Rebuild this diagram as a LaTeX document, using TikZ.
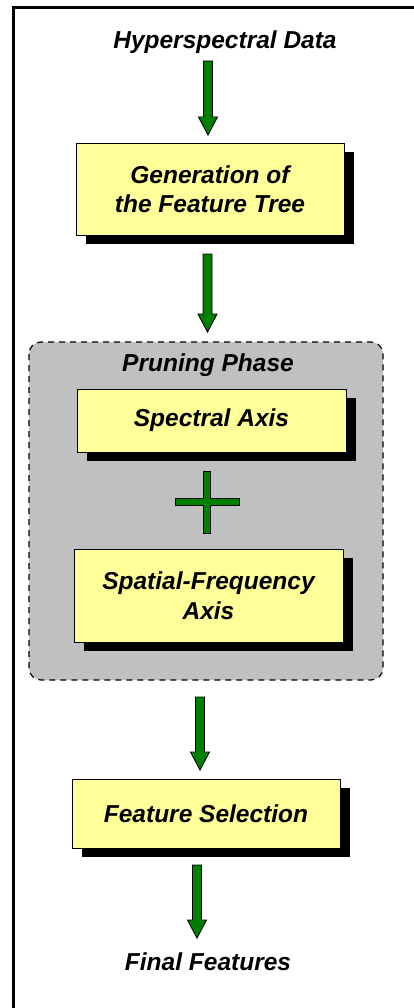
\documentclass[tikz,border=0pt]{standalone}
\usepackage{fontspec}
\setmainfont{Liberation Sans}
\usetikzlibrary{calc}
\definecolor{boxyellow}{RGB}{255,255,153}
\definecolor{arrowgreen}{RGB}{0,128,0}
\definecolor{phasegray}{RGB}{192,192,192}
\tikzset{
  label/.style={font=\fontsize{24.5}{29.5}\selectfont\bfseries\itshape, align=center, inner sep=0pt},
  stage/.style={draw=black, line width=0.9pt, fill=boxyellow, align=center,
    font=\fontsize{24.5}{29.5}\selectfont\bfseries\itshape, inner sep=0pt},
  fatarrow/.style={draw=black, line width=0.9pt, fill=arrowgreen, line join=miter},
}
% thick down arrow with black outline, from #1 to the tip #2
\newcommand\fatarrow[2]{%
  \draw[fatarrow] let \p1=(#1), \p2=(#2) in
    (\x1-4.5pt,\y1) -- (\x1-4.5pt,\y2+18pt) -- (\x1-9.5pt,\y2+18pt) -- (\x2,\y2)
    -- (\x1+9.5pt,\y2+18pt) -- (\x1+4.5pt,\y2+18pt) -- (\x1+4.5pt,\y1) -- cycle;}
% box with a solid black drop shadow
\newcommand\stagebox[5]{%
  \fill[black] ($(#2)+(-#3/2+10,-#4/2+9)$) rectangle ($(#2)+(#3/2+10,#4/2+9)$);
  \node[stage, minimum width=#3pt, minimum height=#4pt] (#1) at (#2) {#5};}
\begin{document}
\begin{tikzpicture}[x=1pt,y=-1pt]
\useasboundingbox (0,0) rectangle (414,1008);
\fill[white] (0,0) rectangle (414,1008);
% open frame: top and left edges
\draw[line width=3pt] (13.5,1008) -- (13.5,7.5) -- (414,7.5);

\node[label] (input) at (225,42) {Hyperspectral Data};

\stagebox{gen}{210,189}{268}{92}{Generation of\\the Feature Tree}

% pruning phase group
\draw[line width=1.2pt, fill=phasegray, rounded corners=12pt,
  dash pattern=on 6pt off 5pt] (29,342) rectangle (383,680);
\node[label] (phase) at (208,365) {Pruning Phase};
\stagebox{spec}{211.5,420.5}{269}{63}{Spectral Axis}
\stagebox{spat}{208.5,595.5}{269}{93}{Spatial-Frequency\\Axis}
\draw[fatarrow] (203.5,471) -- (210.5,471) -- (210.5,498.5) -- (239,498.5)
  -- (239,505.5) -- (210.5,505.5) -- (210.5,533) -- (203.5,533) -- (203.5,505.5)
  -- (175,505.5) -- (175,498.5) -- (203.5,498.5) -- cycle;

\stagebox{sel}{206,813.5}{268}{69}{Feature Selection}
\node[label] (out) at (208,962) {Final Features};

% arrow end points
\coordinate (a1s) at (208,61);   \coordinate (a1e) at (208,135);
\coordinate (a2s) at (207.5,254); \coordinate (a2e) at (207.5,332);
\coordinate (a3s) at (200,697);  \coordinate (a3e) at (200,770);
\coordinate (a4s) at (197,865);  \coordinate (a4e) at (197,938);
\fatarrow{a1s}{a1e}
\fatarrow{a2s}{a2e}
\fatarrow{a3s}{a3e}
\fatarrow{a4s}{a4e}
\end{tikzpicture}
\end{document}
